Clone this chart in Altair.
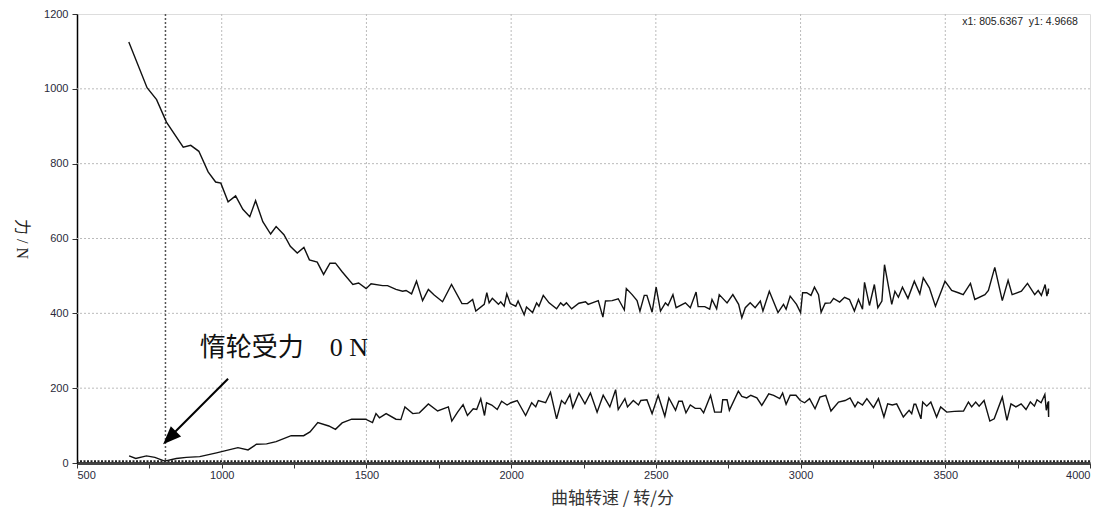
import altair as alt
import pandas as pd

# upper curve (total force) rpm / N
up_x = [679,742,775,809,867,893,921,953,979,997,1022,1048,1073,1097,1117,1142,1169,1188,1215,1237,
        1261,1284,1303,1330,1352,1374,1393,1416,1453,1473,1499,1516,1556,1573,1602,1625,1637,1656,1673,1694,
        1714,1734,1763,1794,1830,1849,1867,1878,1907,1916,1924,1935,1956,1964,1976,1985,1997,2016,2024,2045,
        2053,2074,2088,2096,2111,2131,2157,2171,2181,2191,2209,2234,2257,2266,2301,2317,2326,2349,2370,2391,
        2398,2418,2435,2445,2460,2469,2487,2501,2516,2533,2542,2559,2570,2602,2619,2639,2646,2669,2686,2694,
        2710,2719,2746,2766,2786,2797,2809,2826,2843,2861,2870,2892,2922,2941,2950,2964,2986,3000,3007,3021,
        3036,3048,3062,3071,3085,3103,3114,3135,3152,3169,3186,3200,3214,3221,3238,3255,3267,3281,3290,3315,
        3326,3338,3352,3371,3393,3412,3424,3445,3466,3486,3499,3522,3545,3562,3587,3602,3637,3649,3671,3697,
        3717,3731,3763,3784,3809,3821,3832,3845,3851,3857,3855]
up_y = [1125,1003,971,911,844,849,833,778,751,748,698,714,678,658,701,645,612,632,610,579,
        561,576,543,537,504,534,534,511,477,481,466,479,474,474,464,459,461,452,486,434,
        464,449,431,477,426,426,437,406,424,455,428,440,424,431,419,452,426,419,433,396,
        417,402,428,419,448,428,412,428,421,428,412,427,431,424,434,390,433,434,439,409,
        466,450,434,406,448,448,403,470,406,428,421,450,415,428,415,457,418,418,411,437,
        412,450,428,450,424,388,415,428,415,433,406,459,402,424,411,446,424,402,455,455,
        448,470,450,403,427,428,440,430,443,437,406,437,411,483,421,477,415,433,530,424,
        459,443,470,440,486,452,495,468,419,459,486,461,455,450,480,437,450,461,523,434,
        488,450,459,480,450,461,448,477,446,466,452]

# lower curve (idler force)
lo_x = [680,703,740,769,803,843,878,924,982,1056,1091,1120,1155,1188,1240,1283,1305,1332,1370,1393,
        1416,1449,1497,1521,1533,1545,1568,1602,1619,1633,1660,1683,1714,1746,1783,1795,1815,1834,1849,1869,
        1881,1895,1908,1915,1933,1952,1967,1986,1999,2021,2050,2071,2085,2094,2119,2136,2157,2174,2186,2203,
        2213,2234,2255,2274,2297,2318,2341,2361,2370,2393,2402,2422,2440,2448,2469,2487,2508,2531,2545,2568,
        2579,2591,2604,2619,2636,2654,2665,2689,2703,2726,2731,2746,2754,2785,2797,2814,2828,2849,2866,2890,
        2907,2928,2938,2950,2964,2984,2999,3014,3031,3050,3067,3087,3105,3131,3154,3171,3188,3198,3214,3229,
        3252,3269,3288,3301,3317,3332,3355,3375,3384,3392,3398,3416,3422,3436,3450,3470,3484,3505,3531,3563,
        3580,3591,3605,3617,3634,3654,3669,3697,3713,3727,3744,3762,3779,3794,3808,3817,3831,3844,3849,3855,
        3857,3857]
lo_y = [19,12,19,15,5,12,15,17,27,41,35,50,51,57,73,73,83,108,99,90,
        107,117,117,108,132,121,132,117,116,150,132,134,158,139,150,112,136,156,127,145,
        143,172,127,161,155,143,165,155,161,167,127,161,150,167,161,189,118,167,158,183,
        148,187,158,187,136,181,150,196,143,172,150,167,155,167,169,132,181,125,174,141,
        165,165,134,155,146,146,134,181,136,136,169,169,141,192,178,174,181,174,154,185,
        181,172,187,157,181,181,167,161,172,145,176,181,139,163,167,174,150,163,155,172,
        148,172,123,158,155,158,123,141,132,157,157,118,163,152,163,123,150,136,138,139,
        163,150,163,152,167,112,118,176,114,158,150,158,143,163,152,169,161,183,141,163,
        123,165]

x_grid = [1000, 1500, 2000, 2500, 3000, 3500]
y_grid = [200, 400, 600, 800, 1000]
cursor_x = 805.6367
cursor_y = 4.9668
x_ticks = list(range(500, 4001, 250))
y_ticks = list(range(0, 1201, 100))

df = pd.DataFrame({
    "rpm": up_x + lo_x,
    "force": up_y + lo_y,
    "series": ["total"] * len(up_x) + ["idler"] * len(lo_x),
    "idx": list(range(len(up_x))) + list(range(len(lo_x))),
})

W, H = 1013, 449
xs = alt.Scale(domain=[500, 4000], nice=False, zero=False)
ys = alt.Scale(domain=[0, 1200], nice=False)

LABEL_COLOR = "#2a2a3a"
xaxis = alt.Axis(values=x_ticks, labelExpr="datum.value % 500 === 0 ? datum.label : ''",
                 format="d", grid=False, tickSize=5, tickColor="#333", domainColor="#444",
                 domainWidth=3, labelFont="Liberation Sans", labelFontSize=11,
                 labelColor=LABEL_COLOR, labelPadding=1,
                 title="曲轴转速 / 转/分", titleFont="Noto Sans CJK SC", titleFontSize=17,
                 titleFontWeight="normal", titleColor="#333", titlePadding=10, titleX=535)
yaxis = alt.Axis(values=y_ticks, labelExpr="datum.value % 200 === 0 ? datum.label : ''",
                 format="d", grid=False, tickSize=5, tickColor="#333", domainColor="#000",
                 domainWidth=1.5, labelFont="Liberation Sans", labelFontSize=11,
                 labelColor=LABEL_COLOR, labelPadding=4,
                 title="力 / N", titleFont="Liberation Serif, Noto Sans CJK SC", titleFontSize=16,
                 titleFontWeight="normal", titleColor="#222", titlePadding=30, titleAngle=90)

base = alt.Chart(df)

xgrid = alt.Chart(pd.DataFrame({"v": x_grid})).mark_rule(
    color="#bbbbbb", strokeDash=[2, 2], strokeWidth=1).encode(x=alt.X("v:Q", scale=xs, axis=xaxis))
ygrid = alt.Chart(pd.DataFrame({"v": y_grid})).mark_rule(
    color="#bbbbbb", strokeDash=[2, 2], strokeWidth=1).encode(y=alt.Y("v:Q", scale=ys, axis=yaxis))

lines = base.mark_line(color="#111", strokeWidth=1.4).encode(
    x=alt.X("rpm:Q", scale=xs),
    y=alt.Y("force:Q", scale=ys),
    detail="series:N",
    order="idx:Q",
)

cur_v = alt.Chart(pd.DataFrame({"v": [cursor_x]})).mark_rule(
    color="#555", strokeDash=[2, 2], strokeWidth=1.5).encode(x=alt.X("v:Q", scale=xs))
cur_h = alt.Chart(pd.DataFrame({"v": [cursor_y]})).mark_rule(
    color="#222", strokeDash=[2, 1.5], strokeWidth=2).encode(y=alt.Y("v:Q", scale=ys))

# annotation
ann_df = pd.DataFrame({"x": [924], "y": [308], "t": ["惰轮受力\u30000\u00a0N"]})
ann = alt.Chart(ann_df).mark_text(
    align="left", baseline="middle", font="Liberation Serif, Noto Sans CJK SC", fontSize=26, color="#111"
).encode(x=alt.X("x:Q", scale=xs), y=alt.Y("y:Q", scale=ys), text="t:N")

arrow_df = pd.DataFrame({"x": [1022], "y": [225], "x2": [822], "y2": [70]})
arrow_line = alt.Chart(arrow_df).mark_rule(color="#000", strokeWidth=2).encode(
    x=alt.X("x:Q", scale=xs), y=alt.Y("y:Q", scale=ys), x2="x2:Q", y2="y2:Q")
head_df = pd.DataFrame({"x": [819.7], "y": [67.4]})
arrow_head = alt.Chart(head_df).mark_point(
    shape="M0,-1L0.8,1L-0.8,1Z", filled=True, color="#000", opacity=1, size=330, angle=225
).encode(x=alt.X("x:Q", scale=xs), y=alt.Y("y:Q", scale=ys))

cur_df = pd.DataFrame({"x": [3958], "y": [1178], "t": ["x1: 805.6367\u00a0\u00a0y1: 4.9668"]})
cur_txt = alt.Chart(cur_df).mark_text(
    align="right", baseline="middle", font="Liberation Sans", fontSize=10.5, color="#222"
).encode(x=alt.X("x:Q", scale=xs), y=alt.Y("y:Q", scale=ys), text="t:N")

chart = alt.layer(xgrid, ygrid, cur_v, lines, cur_h, arrow_line, arrow_head, ann, cur_txt).properties(
    width=W, height=H,
    autosize=alt.AutoSizeParams(type="none"),
    padding={"left": 69, "top": 6, "right": 7, "bottom": 45},
).configure_view(stroke="#444", strokeWidth=2).configure(background="white")

chart.save("out.html", embed_options={"renderer": "svg", "actions": False})
